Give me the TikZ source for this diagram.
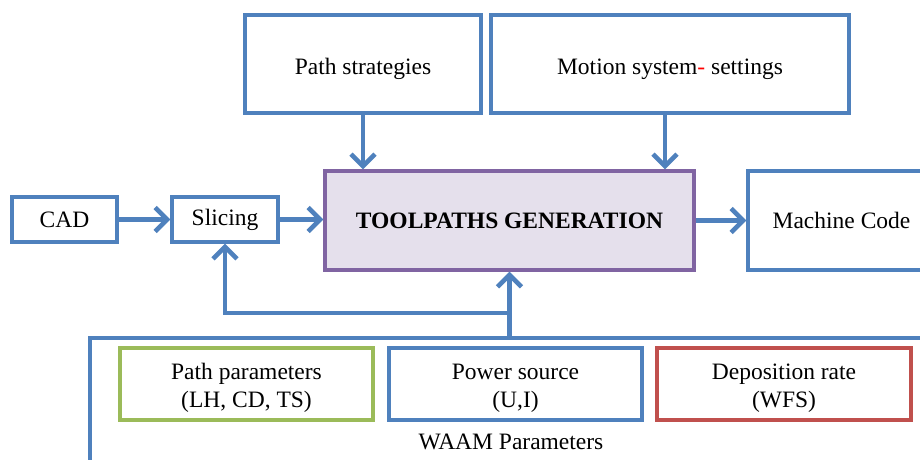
\documentclass[tikz,border=0pt]{standalone}
\usepackage{fontspec}
\setmainfont{Liberation Serif}
\usetikzlibrary{arrows.meta,positioning}
\definecolor{ablue}{HTML}{4F81BD}
\definecolor{apurple}{HTML}{8064A2}
\definecolor{alav}{HTML}{E5E0EC}
\definecolor{agreen}{HTML}{9BBB59}
\definecolor{ared}{HTML}{C0504D}
% text lowered inside its box, keeping the box's own dimensions
\newcommand{\lowtext}[2]{\raisebox{-#1}[\height][\depth]{\begin{tabular}{@{}c@{}}#2\end{tabular}}}
\tikzset{
  box/.style={draw=ablue, line width=3.2pt, fill=white, inner sep=0pt, align=center,
              font=\fontsize{23.5}{28}\selectfont},
  arr/.style={draw=ablue, line width=4.6pt,
              -{Straight Barb[length=12pt,width=24pt]}},
}
\begin{document}
\begin{tikzpicture}[x=1pt,y=-1pt]
\useasboundingbox (0,0) rectangle (920,460);
% top inputs
\node[box, minimum width=236pt, minimum height=98pt] (ps) at (363,64)
  {\lowtext{5pt}{Path strategies}};
\node[box, minimum width=358pt, minimum height=98pt] (ms) at (670,64)
  {\lowtext{5pt}{Motion system{\color{red}-} settings}};
% central processing row
\node[box, draw=apurple, fill=alav, minimum width=369pt, minimum height=99pt] (tp) at (509.5,220.5)
  {\bfseries TOOLPATHS GENERATION};
\node[box, minimum width=105pt, minimum height=45pt] (cad) at (64.5,219.5) {CAD};
\node[box, minimum width=106pt, minimum height=45pt] (sl) at (225,219.5) {Slicing};
\node[box, minimum width=187pt, minimum height=99pt] (mc) at (841.5,220.5) {Machine Code};
% WAAM parameter group
\node[box, fill=none, line width=3.6pt, anchor=north west, minimum width=860pt, minimum height=160pt] (waam) at (88,336) {};
\node[box, draw=agreen, minimum width=253pt, minimum height=72pt] (pp) at (246.5,384)
  {\lowtext{4pt}{Path parameters\\(LH, CD, TS)}};
\node[box, minimum width=253pt, minimum height=72pt] (pw) at (515.5,384)
  {\lowtext{4pt}{Power source\\(U,I)}};
\node[box, draw=ared, minimum width=254pt, minimum height=72pt] (dr) at (784,384)
  {\lowtext{4pt}{Deposition rate\\(WFS)}};
\node[font=\fontsize{23.5}{28}\selectfont, inner sep=0pt] (wl) at (511,442) {WAAM Parameters};
% connectors
\draw[arr] (cad) -- (sl);
\draw[arr] (sl) -- (sl -| tp.west);
\draw[arr] (tp) -- (tp -| mc.west);
\draw[arr] (ps.south) -- (ps.south |- tp.north);
\draw[arr] ([xshift=-5pt]ms.south) -- ([xshift=-5pt]ms.south |- tp.north);
\coordinate (j) at (509.5,313);
\draw[arr] (j |- waam.north) -- (tp.south);
\draw[arr] (j) -| (sl.south);
\end{tikzpicture}
\end{document}
